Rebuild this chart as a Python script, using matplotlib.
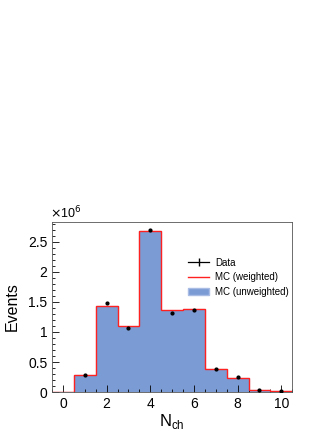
import matplotlib
matplotlib.use("Agg")
import matplotlib.pyplot as plt
import numpy as np
from matplotlib.lines import Line2D
from matplotlib.patches import Patch

plt.rcParams['font.family'] = ['Liberation Sans', 'DejaVu Sans']
plt.rcParams['hatch.color'] = '#a9bde6'
plt.rcParams['hatch.linewidth'] = 0.4

# multiplicity bins and yields (in units of 1e6)
nch = np.arange(0, 11)
mc_unweighted = [0.0, 0.288, 1.432, 1.09, 2.68, 1.355, 1.383, 0.387, 0.232, 0.039, 0.011]
mc_weighted = [0.0, 0.285, 1.435, 1.092, 2.684, 1.36, 1.385, 0.39, 0.238, 0.042, 0.012]
data = [0.0, 0.277, 1.488, 1.062, 2.688, 1.311, 1.372, 0.382, 0.249, 0.033, 0.011]

fig = plt.figure(figsize=(3.32, 4.30), dpi=100)
ax = fig.add_axes([0.157, 0.088, 0.723, 0.396])

edges = np.append(nch - 0.5, nch[-1] + 0.5)
fill_col = '#7b9bd5'
ax.stairs(mc_unweighted, edges, fill=True, facecolor=fill_col, edgecolor=fill_col,
          hatch='.', lw=0.8, zorder=1)
ax.stairs(mc_weighted, edges, fill=False, color='#ff2020', lw=1.0, zorder=2)
ax.errorbar(nch[1:], data[1:], xerr=0, yerr=0.01, fmt='o', ms=2.0,
            color='black', elinewidth=0.8, zorder=3)

ax.set_xlim(-0.5, 10.5)
ax.set_ylim(0, 2.83)
ax.set_xticks(np.arange(0, 11, 2))
ax.set_xticks(np.arange(-0.5, 10.6, 0.5), minor=True)
ax.set_yticks([0, 0.5, 1, 1.5, 2, 2.5])
ax.set_yticklabels(['0', '0.5', '1', '1.5', '2', '2.5'])
ax.set_yticks(np.arange(0, 2.83, 0.1), minor=True)
ax.tick_params(which='both', direction='in', labelsize=10, top=False, right=False)
ax.tick_params(which='major', length=5, width=0.6)
ax.tick_params(which='minor', length=2.5, width=0.6)
for s in ax.spines.values():
    s.set_linewidth(0.6)
    s.set_color('#555555')

ax.set_xlabel(r'N$_{\mathregular{ch}}$', fontsize=12, labelpad=1)
ax.set_ylabel('Events', fontsize=11.5, labelpad=6)
ax.text(-0.01, 1.005, r'$\times$10$^{6}$', transform=ax.transAxes, fontsize=9,
        ha='left', va='bottom')

handles = [
    Line2D([], [], color='black', marker='|', ms=6, lw=0.9),
    Line2D([], [], color='#ff2020', lw=1.0),
    Patch(facecolor=fill_col, edgecolor='#a8bce4'),
]
labels = ['Data', 'MC (weighted)', 'MC (unweighted)']
ax.legend(handles, labels, loc='upper left', bbox_to_anchor=(0.53, 0.84),
          frameon=False, fontsize=7, handlelength=2.2, labelspacing=0.45,
          handletextpad=0.6)

fig.savefig('out.png', dpi=100)
